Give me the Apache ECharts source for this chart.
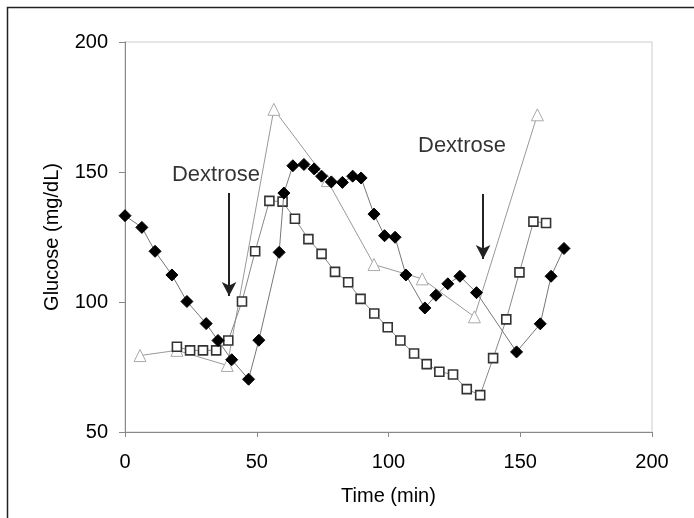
<!DOCTYPE html>
<html>
<head>
<meta charset="utf-8">
<script src="https://cdn.jsdelivr.net/npm/echarts@6/dist/echarts.min.js"></script>
<style>
  html, body { margin: 0; padding: 0; background: #fff; }
  #chart { width: 694px; height: 518px; }
</style>
</head>
<body>
<div id="chart"></div>
<script>
// black diamonds
const diamondTime = [0, 6.4, 11.4, 17.8, 23.5, 30.8, 35.3, 40.5, 46.9, 50.8, 58.5, 60.3, 63.7, 67.9, 71.8, 74.6, 78.3, 82.5, 86.4, 89.6, 94.5, 98.5, 102.5, 106.6, 113.8, 118.0, 122.5, 127.1, 133.4, 148.6, 157.6, 161.7, 166.6];
const diamondGlucose = [133.2, 128.7, 119.5, 110.4, 100.2, 91.7, 85.2, 77.8, 70.3, 85.3, 119.1, 141.9, 152.4, 152.9, 151.2, 148.4, 146.2, 146.0, 148.4, 147.7, 133.8, 125.5, 124.9, 110.4, 97.7, 102.6, 107.0, 109.9, 103.6, 80.8, 91.6, 109.9, 120.6];

// open squares
const squareTime = [19.7, 24.7, 29.6, 34.6, 39.2, 44.4, 49.4, 54.8, 59.8, 64.5, 69.6, 74.6, 79.7, 84.7, 89.4, 94.6, 99.7, 104.5, 109.7, 114.5, 119.3, 124.5, 129.7, 134.8, 139.7, 144.7, 149.7, 155.0, 159.8];
const squareGlucose = [82.8, 81.4, 81.4, 81.4, 85.2, 100.2, 119.5, 138.9, 138.6, 132.0, 124.2, 118.5, 111.6, 107.6, 101.2, 95.6, 90.3, 85.2, 80.2, 76.1, 73.2, 72.1, 66.5, 64.2, 78.4, 93.3, 111.4, 130.9, 130.4];

// open triangles
const triangleTime = [5.7, 19.7, 38.8, 56.5, 76.8, 94.5, 112.8, 132.6, 156.5];
const triangleGlucose = [79.4, 81.4, 75.6, 174.1, 146.7, 114.4, 108.9, 94.3, 172.0];

// dextrose notes and arrows
const noteText = ['Dextrose', 'Dextrose'];
const noteTime = [34.5, 127.9];
const noteGlucose = [148.8, 160.0];
const arrowTime = [39.5, 135.9];
const arrowTop = [141.9, 141.5];
const arrowTip = [102.3, 116.5];

const xTicks = [0, 50, 100, 150, 200];
const yTicks = [50, 100, 150, 200];

const pair = (xs, ys) => xs.map((x, i) => [x, ys[i]]);

const chart = echarts.init(document.getElementById('chart'));

const font = 'Liberation Sans, Arial, sans-serif';

chart.setOption({
  animation: false,
  textStyle: { fontFamily: font },
  graphic: [{
    type: 'rect',
    shape: { x: 7.5, y: 7.5, width: 720, height: 540 },
    style: { fill: 'none', stroke: '#222', lineWidth: 1.5 },
    silent: true,
  }],
  grid: {
    left: 125, right: 42, top: 42, bottom: 86,
    show: true, borderColor: '#ddd', borderWidth: 1.5,
  },
  xAxis: {
    type: 'value',
    min: xTicks[0], max: xTicks[xTicks.length - 1], interval: 50,
    name: 'Time (min)', nameLocation: 'middle', nameGap: 54,
    nameTextStyle: { fontSize: 20, color: '#000', fontFamily: font },
    axisLine: { lineStyle: { color: '#888', width: 1 } },
    axisTick: { show: true, length: 5, lineStyle: { color: '#888' } },
    axisLabel: { fontSize: 20, color: '#000', margin: 20 },
    splitLine: { show: false },
  },
  yAxis: {
    type: 'value',
    min: yTicks[0], max: yTicks[yTicks.length - 1], interval: 50,
    name: 'Glucose (mg/dL)', nameLocation: 'middle', nameGap: 63,
    nameTextStyle: { fontSize: 20, color: '#000', fontFamily: font },
    axisLine: { show: true, lineStyle: { color: '#888', width: 1 } },
    axisTick: { show: true, length: 6, lineStyle: { color: '#888' } },
    axisLabel: { fontSize: 20, color: '#000', margin: 17 },
    splitLine: { show: false },
  },
  series: [
    {
      name: 'triangles',
      type: 'line',
      data: pair(triangleTime, triangleGlucose),
      symbol: 'triangle',
      symbolSize: 12,
      lineStyle: { color: '#999', width: 1 },
      itemStyle: { color: '#fff', borderColor: '#aaa', borderWidth: 1 },
      z: 2,
    },
    {
      name: 'squares',
      type: 'line',
      data: pair(squareTime, squareGlucose),
      symbol: 'rect',
      symbolSize: 9,
      lineStyle: { color: '#888', width: 1 },
      itemStyle: { color: '#fff', borderColor: '#333', borderWidth: 1.6 },
      z: 3,
    },
    {
      name: 'diamonds',
      type: 'line',
      data: pair(diamondTime, diamondGlucose),
      symbol: 'diamond',
      symbolSize: 12,
      lineStyle: { color: '#777', width: 1 },
      itemStyle: { color: '#000', borderColor: '#000' },
      z: 4,
      markLine: {
        silent: true,
        symbol: ['none', 'arrow'],
        symbolSize: [11, 14],
        label: { show: false },
        lineStyle: { color: '#222', width: 2, type: 'solid' },
        data: arrowTime.map((t, i) => [
          { coord: [t, arrowTop[i]] },
          { coord: [t, arrowTip[i]] },
        ]),
      },
    },
    {
      name: 'notes',
      type: 'scatter',
      data: pair(noteTime, noteGlucose),
      symbolSize: 0,
      silent: true,
      label: {
        show: true,
        position: 'inside',
        formatter: (p) => noteText[p.dataIndex],
        fontSize: 22,
        color: '#000',
      },
      z: 5,
    },
  ],
});
</script>
</body>
</html>
